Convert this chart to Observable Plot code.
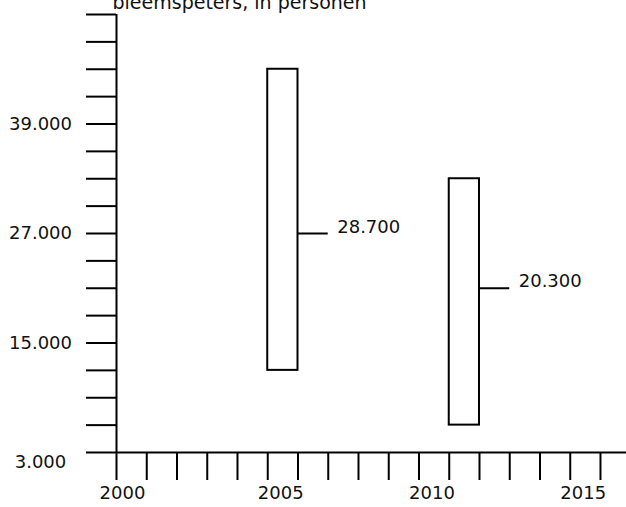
<!DOCTYPE html>
<html>
<head>
<meta charset="utf-8">
<script src="https://cdn.jsdelivr.net/npm/d3@7"></script>
<script src="https://cdn.jsdelivr.net/npm/@observablehq/plot@0.6"></script>
<style>
  html, body { margin: 0; padding: 0; background: #fff; }
  #chart svg line, #chart svg path { stroke-width: 2px; }
</style>
</head>
<body>
<div id="chart"></div>
<script>
// Data
const title = "bleemspeters, in personen";
const years = [2005, 2011];
const lows = [12000, 6000];
const highs = [45000, 33000];
const mids = [27000, 21000];
const midLabels = ["28.700", "20.300"];

const yTicks = [3000, 6000, 9000, 12000, 15000, 18000, 21000, 24000, 27000, 30000, 33000, 36000, 39000, 42000, 45000, 48000, 51000];
const yLabelValues = [3000, 15000, 27000, 39000];
const yLabelTexts = ["3.000", "15.000", "27.000", "39.000"];
const xTicks = [2000, 2001, 2002, 2003, 2004, 2005, 2006, 2007, 2008, 2009, 2010, 2011, 2012, 2013, 2014, 2015, 2016];
const xLabelValues = [2000, 2005, 2010, 2015];
const xLabelTexts = ["2000", "2005", "2010", "2015"];

const bars = years.map((y, i) => ({year: y, low: lows[i], high: highs[i], mid: mids[i], label: midLabels[i]}));
const yLabs = yLabelValues.map((v, i) => ({v, t: yLabelTexts[i]}));
const xLabs = xLabelValues.map((v, i) => ({v, t: xLabelTexts[i]}));

const font = "DejaVu Sans, sans-serif";

const chart = Plot.plot({
  width: 626,
  height: 507,
  marginLeft: 116,
  marginRight: 0,
  marginTop: 14,
  marginBottom: 55,
  style: {fontFamily: font, fontSize: "18px", background: "#fff", color: "#000"},
  x: {domain: [2000, 2016.86], ticks: xTicks, tickSize: 28, tickFormat: () => "", label: null},
  y: {domain: [3000, 51000], ticks: yTicks, tickSize: 30, tickFormat: () => "", label: null},
  marks: [
    Plot.ruleY([3000], {stroke: "#000", strokeWidth: 2}),
    Plot.ruleX([2000], {stroke: "#000", strokeWidth: 2}),
    Plot.rect(bars, {x1: "year", x2: d => d.year + 1, y1: "low", y2: "high", fill: "#fff", stroke: "#000", strokeWidth: 2}),
    Plot.ruleY(bars, {x1: d => d.year + 1, x2: d => d.year + 2, y: "mid", stroke: "#000", strokeWidth: 2}),
    Plot.text(bars, {x: d => d.year + 2, y: "mid", text: "label", textAnchor: "start", lineAnchor: "bottom", dx: 9, dy: -1, fontSize: 18, fill: "#111"}),
    Plot.text(yLabs.filter(d => d.v !== 3000), {y: "v", text: "t", frameAnchor: "left", dx: -76, textAnchor: "middle", fontSize: 18, fill: "#111"}),
    Plot.text(yLabs.filter(d => d.v === 3000), {y: "v", text: "t", frameAnchor: "left", dx: -76, dy: 10, textAnchor: "middle", fontSize: 18, fill: "#111"}),
    Plot.text(xLabs.filter(d => d.v !== 2000), {x: "v", text: "t", frameAnchor: "bottom", dx: 13, dy: 46, textAnchor: "middle", fontSize: 18, fill: "#111"}),
    Plot.text(xLabs.filter(d => d.v === 2000), {x: "v", text: "t", frameAnchor: "bottom", dx: 6, dy: 46, textAnchor: "middle", fontSize: 18, fill: "#111"}),
    Plot.text([title], {text: d => d, frameAnchor: "top-left", dx: -4, dy: -6, textAnchor: "start", lineAnchor: "bottom", fontSize: 19, fill: "#111"})
  ]
});
document.getElementById("chart").appendChild(chart);
</script>
</body>
</html>
